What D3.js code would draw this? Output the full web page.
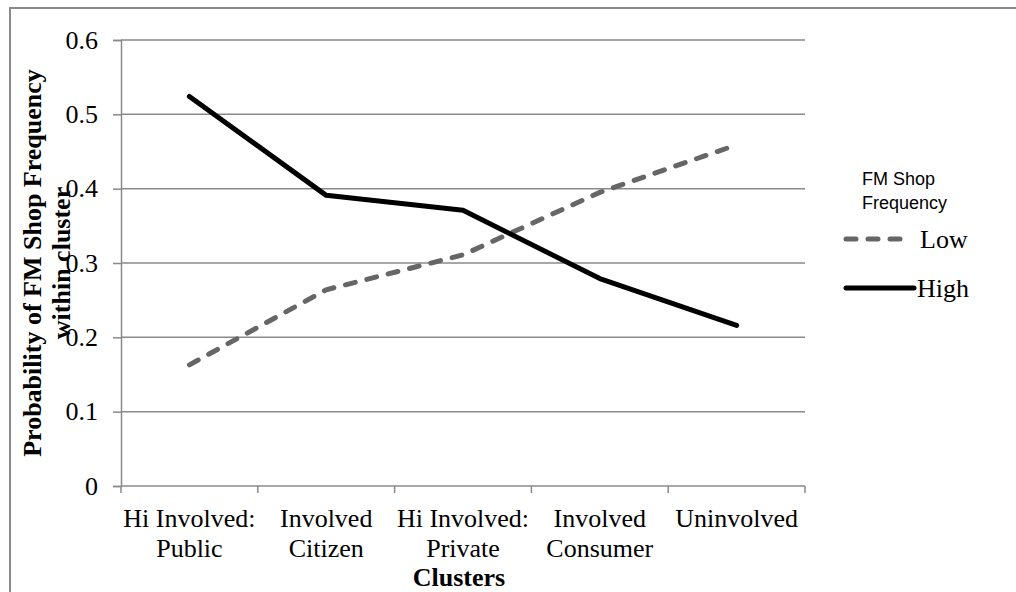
<!DOCTYPE html>
<html>
<head>
<meta charset="utf-8">
<script src="https://cdn.jsdelivr.net/npm/d3@7"></script>
<style>
  body { margin: 0; background: #fff; }
  svg { display: block; }
</style>
</head>
<body>
<div id="chart"></div>
<script>
// chart data
const clusters = [
  ["Hi Involved:", "Public"],
  ["Involved", "Citizen"],
  ["Hi Involved:", "Private"],
  ["Involved", "Consumer"],
  ["Uninvolved"]
];
const lowValues = [0.163, 0.264, 0.311, 0.395, 0.459];
const highValues = [0.524, 0.391, 0.371, 0.279, 0.216];
const yTicks = [0, 0.1, 0.2, 0.3, 0.4, 0.5, 0.6];

const width = 1016;
const height = 592;
const serif = "'Liberation Serif', 'Times New Roman', serif";
const sans = "'Liberation Sans', Arial, sans-serif";
const gridColor = "#8a8a8a";

const plot = { left: 121, right: 805, top: 40, bottom: 486 };

const svg = d3.select("#chart").append("svg")
  .attr("width", width)
  .attr("height", height);

// chart area border (runs off the right and bottom edge)
svg.append("rect")
  .attr("x", 10).attr("y", 8)
  .attr("width", 1100).attr("height", 700)
  .attr("fill", "none")
  .attr("stroke", gridColor)
  .attr("stroke-width", 2);

const keys = clusters.map((d, i) => i);
const x = d3.scaleBand().domain(keys).range([plot.left, plot.right]);
const y = d3.scaleLinear().domain([0, 0.6]).range([plot.bottom, plot.top]);

// y ticks and labels
const yAxis = svg.append("g")
  .attr("transform", `translate(${plot.left},0)`)
  .call(d3.axisLeft(y).tickValues(yTicks).tickSize(8).tickFormat(d => d === 0 ? "0" : d3.format(".1f")(d)));
yAxis.select(".domain").attr("stroke", gridColor).attr("stroke-width", 1.5);
yAxis.selectAll(".tick line").attr("stroke", gridColor).attr("stroke-width", 1.5);
yAxis.selectAll(".tick text")
  .attr("x", -23)
  .attr("fill", "#000")
  .attr("font-family", serif)
  .attr("font-size", "26px");

// horizontal gridlines
svg.append("g")
  .selectAll("line")
  .data(yTicks.filter(d => d > 0))
  .enter()
  .append("line")
  .attr("x1", plot.left)
  .attr("x2", plot.right)
  .attr("y1", d => y(d))
  .attr("y2", d => y(d))
  .attr("stroke", gridColor)
  .attr("stroke-width", 1.5);

// x axis line and tick marks at band edges
svg.append("line")
  .attr("x1", plot.left).attr("x2", plot.right)
  .attr("y1", plot.bottom).attr("y2", plot.bottom)
  .attr("stroke", gridColor).attr("stroke-width", 1.5);

const edges = keys.map(k => x(k)).concat([plot.right]);
svg.append("g")
  .selectAll("line")
  .data(edges)
  .enter()
  .append("line")
  .attr("x1", d => d).attr("x2", d => d)
  .attr("y1", plot.bottom).attr("y2", plot.bottom + 7)
  .attr("stroke", gridColor).attr("stroke-width", 1.5);

// category labels
const cx = k => x(k) + x.bandwidth() / 2;
const catLabel = svg.append("g")
  .selectAll("text")
  .data(clusters)
  .enter()
  .append("text")
  .attr("text-anchor", "middle")
  .attr("font-family", serif)
  .attr("font-size", "26px")
  .attr("fill", "#000");
catLabel.selectAll("tspan")
  .data((d, i) => d.map(t => ({ t: t, i: i })))
  .enter()
  .append("tspan")
  .attr("x", d => cx(d.i))
  .attr("y", (d, j) => 527 + j * 30)
  .text(d => d.t);

// axis titles
svg.append("text")
  .attr("x", (plot.left + plot.right) / 2 - 4)
  .attr("y", 586)
  .attr("text-anchor", "middle")
  .attr("font-family", serif)
  .attr("font-weight", "bold")
  .attr("font-size", "26px")
  .text("Clusters");

const yTitle = svg.append("text")
  .attr("transform", `translate(0,${(plot.top + plot.bottom) / 2}) rotate(-90)`)
  .attr("text-anchor", "middle")
  .attr("font-family", serif)
  .attr("font-weight", "bold")
  .attr("font-size", "26px");
yTitle.append("tspan").attr("x", 0).attr("y", 41).text("Probability of FM Shop Frequency");
yTitle.append("tspan").attr("x", 0).attr("y", 70).text("within cluster");

// series lines
const line = d3.line()
  .x((d, i) => cx(i))
  .y(d => y(d));

svg.append("path")
  .datum(lowValues)
  .attr("d", line)
  .attr("fill", "none")
  .attr("stroke", "#666666")
  .attr("stroke-width", 5)
  .attr("stroke-linecap", "round")
  .attr("stroke-dasharray", "10,12");

svg.append("path")
  .datum(highValues)
  .attr("d", line)
  .attr("fill", "none")
  .attr("stroke", "#000")
  .attr("stroke-width", 5)
  .attr("stroke-linecap", "round")
  .attr("stroke-linejoin", "round");

// legend
const legend = svg.append("g");
legend.append("text")
  .attr("font-family", sans)
  .attr("font-size", "18px")
  .selectAll("tspan")
  .data(["FM Shop", "Frequency"])
  .enter()
  .append("tspan")
  .attr("x", 862)
  .attr("y", (d, i) => 185 + i * 24)
  .text(d => d);

const legendItems = [
  { name: "Low", color: "#666666", dash: "10,12", x2: 905, y: 239 },
  { name: "High", color: "#000", dash: null, x2: 914, y: 288 }
];
legendItems.forEach(item => {
  legend.append("line")
    .attr("x1", 846).attr("x2", item.x2)
    .attr("y1", item.y).attr("y2", item.y)
    .attr("stroke", item.color)
    .attr("stroke-width", 5)
    .attr("stroke-linecap", "round")
    .attr("stroke-dasharray", item.dash);
  legend.append("text")
    .attr("x", item.name === "Low" ? 920 : 917)
    .attr("y", item.y + 9)
    .attr("font-family", serif)
    .attr("font-size", "26px")
    .text(item.name);
});
</script>
</body>
</html>
